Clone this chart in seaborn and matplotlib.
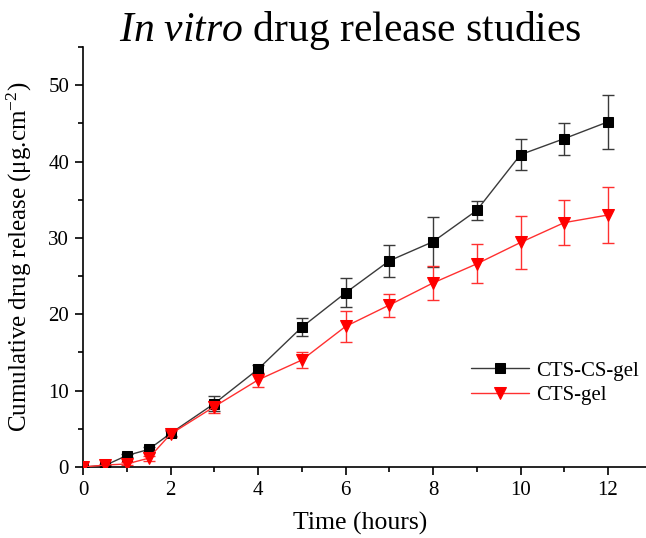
import numpy as np
import pandas as pd
import matplotlib
matplotlib.use("Agg")
import matplotlib.pyplot as plt
import seaborn as sns

time_h = [0, 0.5, 1, 1.5, 2, 3, 4, 5, 6, 7, 8, 9, 10, 11, 12]
cts_cs_gel = [0, 0.2, 1.5, 2.3, 4.4, 8.3, 12.8, 18.3, 22.8, 27.0, 29.5, 33.6, 40.9, 43.0, 45.2]
cts_cs_err = [0, 0.1, 0.2, 0.3, 0.4, 1.0, 0.5, 1.15, 1.9, 2.1, 3.3, 1.25, 2.0, 2.1, 3.55]
cts_gel = [0, 0.25, 0.4, 1.15, 4.3, 7.9, 11.4, 14.0, 18.4, 21.2, 24.1, 26.6, 29.4, 32.0, 33.0]
cts_err = [0, 0.1, 0.2, 0.3, 0.4, 0.8, 0.9, 1.0, 2.0, 1.5, 2.2, 2.55, 3.5, 2.9, 3.7]
series_names = ["CTS-CS-gel", "CTS-gel"]
x_ticks = [0, 2, 4, 6, 8, 10, 12]
y_ticks = [0, 10, 20, 30, 40, 50]

sns.set_style("ticks")
plt.rcParams["font.family"] = ["Liberation Serif", "DejaVu Serif"]
plt.rcParams["mathtext.fontset"] = "custom"
plt.rcParams["mathtext.rm"] = "Liberation Serif"
plt.rcParams["mathtext.it"] = "Liberation Serif:italic"
plt.rcParams["axes.linewidth"] = 1.2
for key in ["text.color", "axes.labelcolor", "xtick.color", "ytick.color", "axes.edgecolor"]:
    plt.rcParams[key] = "black"

df = pd.DataFrame({
    "Time": time_h * 2,
    "Release": cts_cs_gel + cts_gel,
    "Err": cts_cs_err + cts_err,
    "Sample": [series_names[0]] * len(time_h) + [series_names[1]] * len(time_h),
})

fig = plt.figure(figsize=(6.46, 5.38), dpi=100)
ax = fig.add_axes([83 / 646, 71 / 538, (651.75 - 83) / 646, 420 / 538])

colors = {"CTS-CS-gel": "#000000", "CTS-gel": "#ff0000"}
line_colors = {"CTS-CS-gel": "#3a3a3a", "CTS-gel": "#ff3030"}
markers = {"CTS-CS-gel": "s", "CTS-gel": "v"}
msizes = {"CTS-CS-gel": 6.5, "CTS-gel": 9}

for name in series_names:
    sub = df[df["Sample"] == name]
    ax.errorbar(sub["Time"], sub["Release"], yerr=sub["Err"], fmt="none",
                ecolor=line_colors[name], elinewidth=1.0, capsize=4.5, capthick=1.0, zorder=2)
    sns.lineplot(data=sub, x="Time", y="Release", ax=ax, color=line_colors[name],
                 linewidth=1.0, marker=markers[name], markersize=msizes[name],
                 markerfacecolor=colors[name], markeredgecolor=colors[name],
                 label=name, errorbar=None, zorder=3)

ax.set_xlim(0, 13)
ax.set_ylim(0, 55)
ax.set_xticks(x_ticks)
ax.set_xticks([1, 3, 5, 7, 9, 11], minor=True)
ax.set_yticks(y_ticks)
ax.set_yticks([5, 15, 25, 35, 45, 55], minor=True)
ax.tick_params(axis="both", which="major", direction="out", length=6, width=1.2, labelsize=15, pad=4)
ax.tick_params(axis="both", which="minor", direction="out", length=3.5, width=1.2)
for s in ["top", "right"]:
    ax.spines[s].set_visible(False)

ax.set_xlabel("Time (hours)", fontsize=18.5)
ax.xaxis.set_label_coords(0.487, -0.108)
ax.set_ylabel("Cumulative drug release (μg.cm$^{-2}$)", fontsize=18, labelpad=10)

leg = ax.legend(loc="upper left", bbox_to_anchor=(0.667, 0.272), frameon=False,
                fontsize=15, handlelength=2.8, handletextpad=0.35, labelspacing=0.25,
                borderaxespad=0)

fig.text(350 / 646, 1 - 31 / 538, r"$\mathit{In\ vitro}$ drug release studies",
         ha="center", va="center", fontsize=30)

fig.savefig("out.png", dpi=100)
